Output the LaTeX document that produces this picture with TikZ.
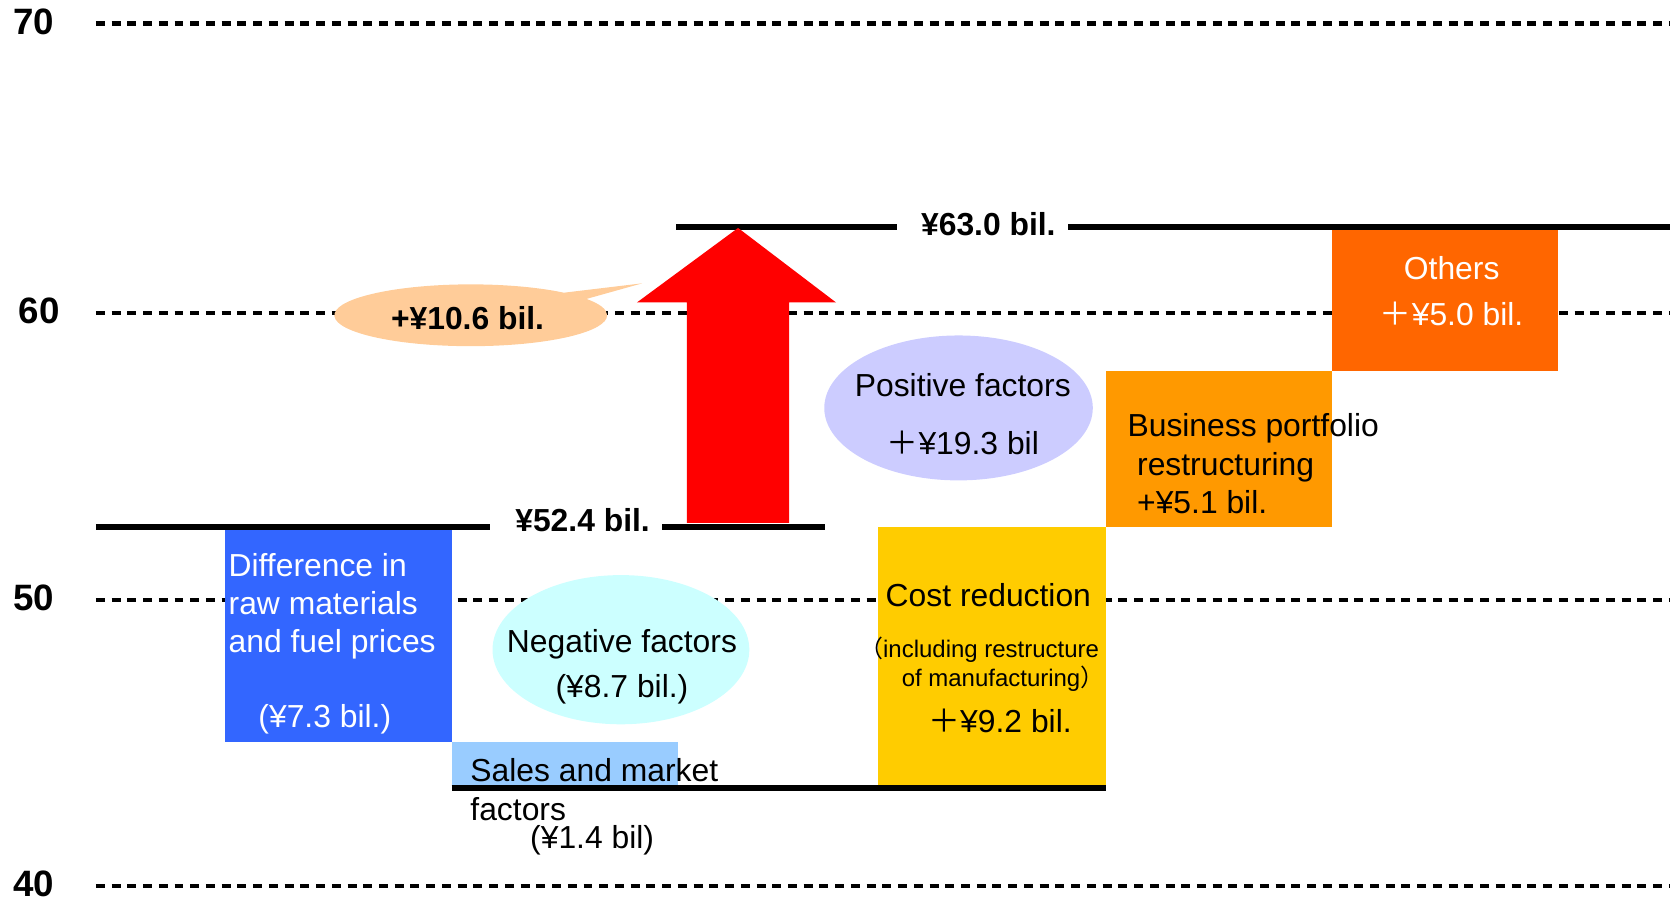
\documentclass[tikz,border=0pt]{standalone}
\usepackage{fontspec}
\setmainfont{Liberation Sans}
\newfontfamily\cjkfont{Noto Sans CJK JP}
\usetikzlibrary{shapes.geometric,shapes.callouts}
\definecolor{rawblue}{HTML}{3366FF}
\definecolor{salesblue}{HTML}{99CCFF}
\definecolor{costyellow}{HTML}{FFCC00}
\definecolor{bizorange}{HTML}{FF9900}
\definecolor{othorange}{HTML}{FF6600}
\definecolor{gainpeach}{HTML}{FFCC99}
\definecolor{poslav}{HTML}{CCCCFF}
\definecolor{negcyan}{HTML}{CCFFFF}
\newcommand{\fwplus}{{\cjkfont ＋}}
\begin{document}
\begin{tikzpicture}[x=0.01cm,y=-0.01cm,
    gridline/.style={line width=1.1pt,dash pattern=on 2.4pt off 1.8pt},
    levelline/.style={line width=1.6pt},
    txt/.style={inner sep=0pt,font=\fontsize{8.5}{10.24}\selectfont},
    smalltxt/.style={inner sep=0pt,font=\fontsize{6.4}{7.97}\selectfont},
    boldtxt/.style={inner sep=0pt,font=\fontsize{8.5}{10.24}\selectfont\bfseries},
    axistxt/.style={inner sep=0pt,font=\fontsize{9.8}{11}\selectfont\bfseries}]
    \useasboundingbox (0,0) rectangle (1568,844);
    % scale
    \foreach \v/\x/\y in {70/12/22,60/17/294,50/12/563,40/12/832}{
        \draw[gridline] (90,\y) -- (1568,\y);
        \node[axistxt,anchor=base west] (ax\v) at (\x,{\y+10}) {\v};
    }
    % bars
    \fill[rawblue] (211,497) rectangle (424,697);
    \fill[salesblue] (424,697) rectangle (637,740);
    \fill[costyellow] (824,495) rectangle (1038,740);
    \fill[bizorange] (1038,348) rectangle (1251,495);
    \fill[othorange] (1251,213) rectangle (1463,348);
    % levels
    \draw[levelline] (90,495) -- (460,495) (622,495) -- (775,495);
    \draw[levelline] (635,213) -- (842,213) (1003,213) -- (1568,213);
    \draw[levelline] (424,740) -- (1038,740);
    \node[boldtxt,anchor=base] (lowlvl) at (547,499) {¥52.4 bil.};
    \node[boldtxt,anchor=base] (highlvl) at (928,221) {¥63.0 bil.};
    % arrow
    \fill[red] (645,491) -- (645,284) -- (598,284) -- (693,214)
        -- (785,284) -- (741,284) -- (741,491) -- cycle;
    % bubbles
    \node[ellipse callout,fill=gainpeach,minimum width=2.56cm,minimum height=0.58cm,
        callout absolute pointer={(603,266)}] (gain) at (442,296) {};
    \node[boldtxt,anchor=base] (gaintxt) at (439,309) {+¥10.6 bil.};
    \node[ellipse,fill=poslav,minimum width=2.52cm,minimum height=1.36cm] (pos) at (900,383) {};
    \node[txt,align=center,anchor=base] (postxt) at (904,427) {Positive factors\\[5.4pt]\fwplus¥19.3 bil};
    \node[ellipse,fill=negcyan,minimum width=2.41cm,minimum height=1.4cm] (neg) at (583,610) {};
    \node[txt,align=center,anchor=base] (negtxt) at (584,655) {Negative factors\\[1.7pt](¥8.7 bil.)};
    % bar texts
    \node[txt,white,align=left,anchor=base west] (rawtxt) at (214,613) {Difference in\\raw materials\\and fuel prices};
    \node[txt,white,anchor=base] (rawval) at (305,683) {(¥7.3 bil.)};
    \node[txt,align=left,anchor=base west] (salestxt) at (441,770) {Sales and market\\factors};
    \node[txt,anchor=base] (salesval) at (556,797) {(¥1.4 bil)};
    \node[txt,anchor=base] (costtxt) at (928,569) {Cost reduction};
    \node[smalltxt,align=left,anchor=base west] (costnote) at (806,645) {{\cjkfont （}including restructure\\\hspace*{0.4cm}of manufacturing{\cjkfont ）}};
    \node[txt,anchor=base] (costval) at (939,688) {\fwplus¥9.2 bil.};
    \node[txt,align=left,anchor=base west] (biztxt) at (1058,482) {Business portfolio\\\hspace*{0.09cm}restructuring\\\hspace*{0.09cm}+¥5.1 bil.};
    \node[txt,white,align=center,anchor=base] (othtxt) at (1363,306) {Others\\[2.2pt]\fwplus¥5.0 bil.};
\end{tikzpicture}
\end{document}
